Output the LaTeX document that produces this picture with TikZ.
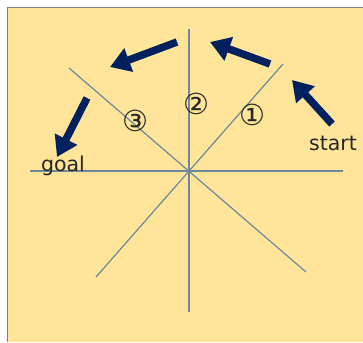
\documentclass[tikz,border=0pt]{standalone}
\usepackage{fontspec}
\setmainfont{DejaVu Sans}
\usepackage{tikz}
\usetikzlibrary{arrows.meta, positioning}
\definecolor{padyellow}{RGB}{255,229,153}
\definecolor{framegray}{RGB}{128,128,128}
\definecolor{axisgray}{RGB}{110,135,155}
\definecolor{navyarr}{RGB}{0,32,96}
\begin{document}
\begin{tikzpicture}[
  x=1pt, y=-1pt,
  axisline/.style = {draw=axisgray, line width=1.2pt},
  movearr/.style  = {draw=navyarr, line width=7.5pt,
                     -{Triangle[length=20pt, width=24pt]}},
  wordlbl/.style  = {font=\fontsize{20.5}{24}\selectfont, text=black!85,
                     inner sep=0pt, anchor=base},
  numlbl/.style   = {font=\fontsize{29}{30}\selectfont, text=black!85,
                     inner sep=0pt},
]

%% --- Background ---
\useasboundingbox (0,0) rectangle (363,342);
\fill[padyellow] (7,8) rectangle (363,342);
\draw[framegray, line width=1pt] (7,342) -- (7,8) -- (363,8);

%% --- Star of lines ---
\coordinate (ctr) at (189,171);
\coordinate (e)  at (343,171);
\coordinate (w)  at (30,171);
\coordinate (n)  at (189,29);
\coordinate (s)  at (189,312);
\coordinate (ne) at (283,64);
\coordinate (sw) at (96,277);
\coordinate (nw) at (69,68);
\coordinate (se) at (306,272);
\foreach \a/\b in {w/e, n/s, sw/ne, nw/se} {
  \draw[axisline] (\a) -- (\b);
}

%% --- Step labels ---
\node[numlbl] (one)   at (252,115) {①};
\node[numlbl] (two)   at (196,104) {②};
\node[numlbl] (three) at (135,121) {③};

%% --- Start / goal ---
\node[wordlbl] (start) at (333,150) {start};
\node[wordlbl] (goal)  at (63,171)  {goal};

%% --- Moves ---
\coordinate (m1a) at (332,124); \coordinate (m1b) at (292,80);
\coordinate (m2a) at (270,64);  \coordinate (m2b) at (210,42);
\coordinate (m3a) at (177,42);  \coordinate (m3b) at (110,67);
\coordinate (m4a) at (87,98);   \coordinate (m4b) at (57,157);
\foreach \n in {1,2,3,4} {
  \draw[movearr] (m\n a) -- (m\n b);
}

\end{tikzpicture}
\end{document}
